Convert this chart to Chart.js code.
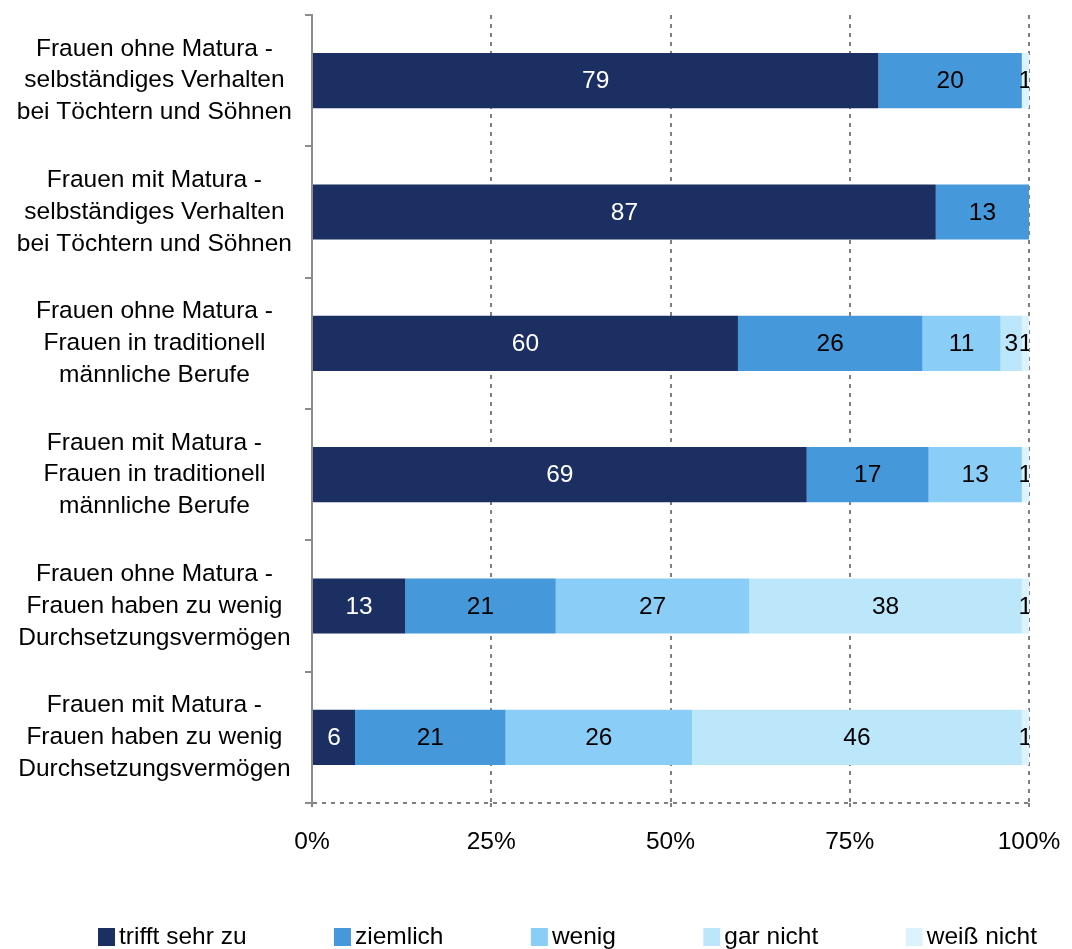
<!DOCTYPE html>
<html>
<head>
<meta charset="utf-8">
<script src="https://cdn.jsdelivr.net/npm/chart.js@4/dist/chart.umd.min.js"></script>
<style>
  html, body { margin: 0; padding: 0; background: #fff; }
  canvas { display: block; }
</style>
</head>
<body>
<canvas id="chart" width="1072" height="949"></canvas>
<script>
// Kategorien (von oben nach unten)
const categories = [
    ['Frauen ohne Matura -', 'selbständiges Verhalten', 'bei Töchtern und Söhnen'],
    ['Frauen mit Matura -', 'selbständiges Verhalten', 'bei Töchtern und Söhnen'],
    ['Frauen ohne Matura -', 'Frauen in traditionell', 'männliche Berufe'],
    ['Frauen mit Matura -', 'Frauen in traditionell', 'männliche Berufe'],
    ['Frauen ohne Matura -', 'Frauen haben zu wenig', 'Durchsetzungsvermögen'],
    ['Frauen mit Matura -', 'Frauen haben zu wenig', 'Durchsetzungsvermögen']
];

// Antworten in Prozent, wie beschriftet
const seriesNames = ['trifft sehr zu', 'ziemlich', 'wenig', 'gar nicht', 'weiß nicht'];
const trifftSehrZu = [79, 87, 60, 69, 13, 6];
const ziemlich     = [20, 13, 26, 17, 21, 21];
const wenig        = [0, 0, 11, 13, 27, 26];
const garNicht     = [0, 0, 3, 0, 38, 46];
const weissNicht   = [1, 0, 1, 1, 1, 1];
const xTicks = [0, 25, 50, 75, 100];

const seriesValues = [trifftSehrZu, ziemlich, wenig, garNicht, weissNicht];
const colors = ['#1c2f63', '#4599da', '#8acdf6', '#bce6fa', '#ddf3fc'];
const labelColors = ['#ffffff', '#000000', '#000000', '#000000', '#000000'];
const FONT = '"Liberation Sans", Arial, sans-serif';
const FSIZE = 24.5;

// 100%-Balken: jede Zeile auf ihre Summe normiert
const rowTotals = categories.map((c, i) => seriesValues.reduce((s, arr) => s + arr[i], 0));

const datasets = seriesNames.map((name, k) => ({
    label: name,
    data: seriesValues[k].map((v, i) => v / rowTotals[i] * 100),
    rawValues: seriesValues[k],
    backgroundColor: colors[k],
    borderWidth: 0,
    barPercentage: 0.42,
    categoryPercentage: 1.0
}));

// Werte mittig in die Segmente schreiben
const valueLabels = {
    id: 'valueLabels',
    afterDatasetsDraw(chart) {
        const ctx = chart.ctx;
        const area = chart.chartArea;
        ctx.save();
        ctx.beginPath();
        ctx.rect(area.left, area.top, area.right - area.left, area.bottom - area.top);
        ctx.clip();
        ctx.font = FSIZE + 'px ' + FONT;
        ctx.textAlign = 'center';
        ctx.textBaseline = 'middle';
        chart.data.datasets.forEach((ds, di) => {
            const meta = chart.getDatasetMeta(di);
            meta.data.forEach((bar, i) => {
                const raw = ds.rawValues[i];
                if (!raw) return;
                const p = bar.getProps(['x', 'y', 'base'], true);
                ctx.fillStyle = labelColors[di];
                ctx.fillText(String(raw), (p.x + p.base) / 2, p.y + 1);
            });
        });
        ctx.restore();
    }
};

// Legende unten, Kästchen direkt vor dem Text
const bottomLegend = {
    id: 'bottomLegend',
    afterDraw(chart) {
        const ctx = chart.ctx;
        const box = 17, gap = 4;
        const left = 98, right = 1037, cy = 937;
        ctx.save();
        ctx.font = FSIZE + 'px ' + FONT;
        ctx.textBaseline = 'middle';
        ctx.textAlign = 'left';
        const items = chart.data.datasets.map(ds => ({
            text: ds.label,
            color: ds.backgroundColor,
            w: box + gap + ctx.measureText(ds.label).width
        }));
        const used = items.reduce((s, it) => s + it.w, 0);
        const spacing = (right - left - used) / (items.length - 1);
        let x = left;
        items.forEach(it => {
            ctx.fillStyle = it.color;
            ctx.fillRect(x, cy - 9, box, box + 1);
            ctx.fillStyle = '#000';
            ctx.fillText(it.text, x + box + gap, cy);
            x += it.w + spacing;
        });
        ctx.restore();
    }
};

new Chart(document.getElementById('chart'), {
    type: 'bar',
    data: { labels: categories, datasets: datasets },
    options: {
        indexAxis: 'y',
        responsive: false,
        animation: false,
        layout: { padding: { left: 0, right: 43, top: 15, bottom: 86 } },
        plugins: {
            legend: { display: false },
            tooltip: { enabled: false }
        },
        scales: {
            x: {
                stacked: true,
                min: 0,
                max: 100,
                afterBuildTicks: scale => { scale.ticks = xTicks.map(v => ({ value: v })); },
                afterFit: scale => {
                    scale.height = 60;
                    scale.paddingLeft = 0;
                    scale.paddingRight = 0;
                },
                ticks: {
                    color: '#000',
                    font: { family: FONT, size: FSIZE },
                    padding: 16,
                    callback: v => v + '%'
                },
                grid: {
                    color: '#808080',
                    lineWidth: 2,
                    tickLength: 9,
                    tickColor: '#808080',
                    tickBorderDash: [4, 5]
                },
                border: { display: false, dash: [4, 5] }
            },
            y: {
                stacked: true,
                afterFit: scale => {
                    scale.width = 312;
                    scale.paddingTop = 0;
                    scale.paddingBottom = 0;
                },
                ticks: {
                    color: '#000',
                    font: { family: FONT, size: FSIZE, lineHeight: 1.3 },
                    crossAlign: 'center',
                    padding: 13
                },
                grid: {
                    offset: true,
                    drawOnChartArea: true,
                    // nur die unterste Trennlinie gestrichelt über die Fläche
                    color: c => c.type === 'scale' ? '#808080' : 'rgba(0,0,0,0)',
                    lineWidth: 2,
                    tickLength: 7,
                    tickColor: '#8c8c8c',
                    tickWidth: 2,
                    tickBorderDash: []
                },
                border: { display: true, color: '#8c8c8c', width: 2, dash: [4, 5] }
            }
        }
    },
    plugins: [valueLabels, bottomLegend]
});
</script>
</body>
</html>
